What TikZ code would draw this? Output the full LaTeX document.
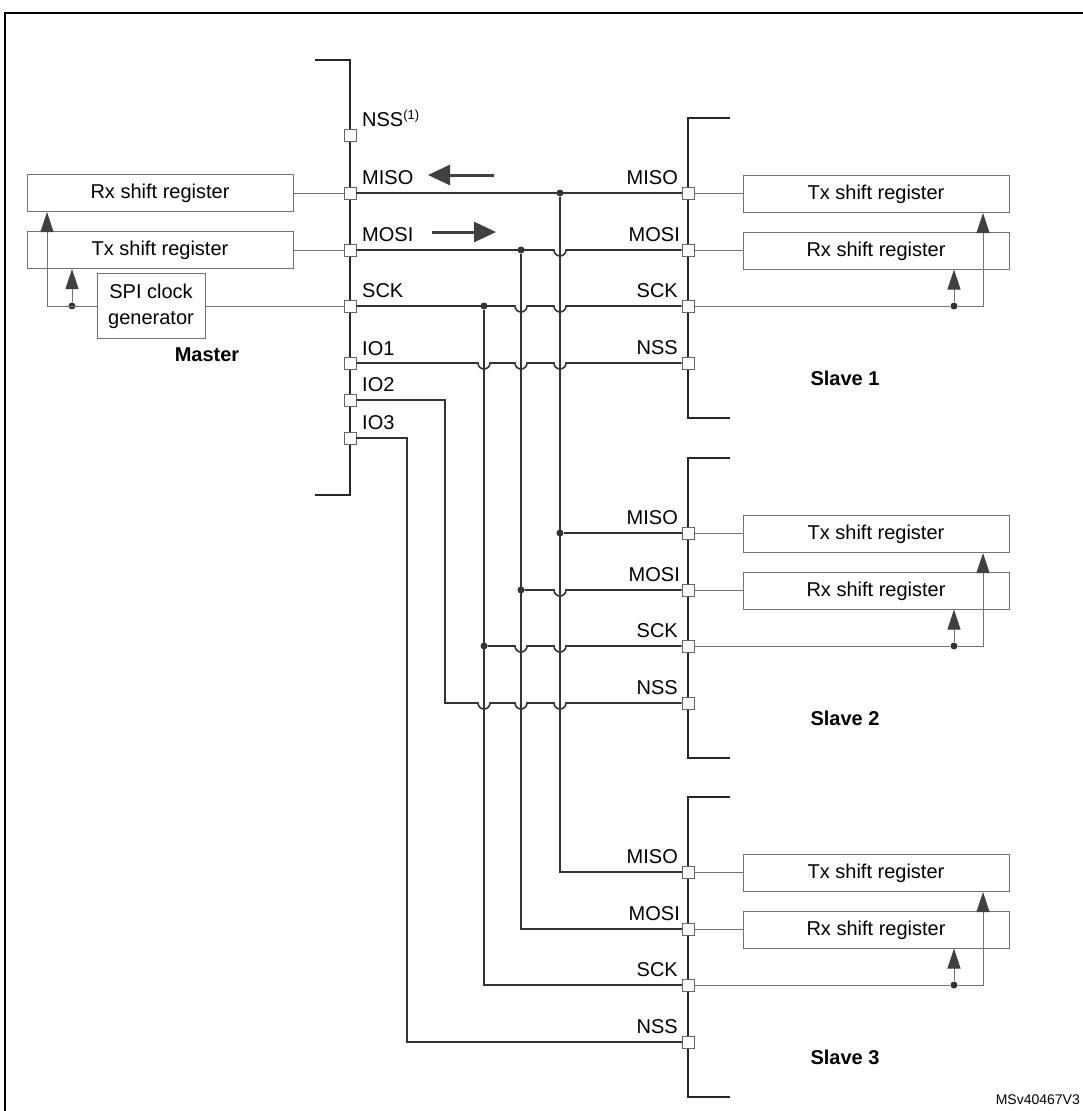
\documentclass[tikz,border=0pt]{standalone}
\usepackage{fontspec}
\setmainfont{Liberation Sans}
\usetikzlibrary{arrows.meta}
\begin{document}
\begin{tikzpicture}[x=1pt,y=-1pt,
  pad/.style={draw=black!60,fill=white,minimum size=12pt,inner sep=0pt,line width=0.8pt},
  reg/.style={draw=black!55,line width=0.9pt,minimum width=266pt,minimum height=37pt,inner sep=0pt,font=\fontsize{20}{24}\selectfont},
  bar/.style={draw=black!85,line width=1.8pt},
  bus/.style={draw=black!80,line width=1.6pt},
  thin/.style={draw=black!55,line width=0.9pt},
  lbl/.style={font=\fontsize{20}{24}\selectfont,inner sep=0pt},
  ttl/.style={font=\bfseries\fontsize{20}{24}\selectfont,inner sep=0pt},
  dot/.style={circle,fill=black!80,minimum size=7pt,inner sep=0pt},
  up/.style={-{Triangle[length=20pt,width=13pt,color=black!75]},draw=black!55,line width=0.9pt},
  big/.style={-{Triangle[length=22pt,width=20pt]},draw=black!75,line width=3pt},
]
\useasboundingbox (0,0) rectangle (1082,1111);
\draw[line width=1.5pt] (5,1130) -- (5,13) -- (1100,13);
\node[anchor=east,font=\fontsize{14}{17}\selectfont,inner sep=0pt] (code) at (1080,1100) {MSv40467V3};
\def\hop#1{-- (#1-6,\hy) arc[start angle=180,end angle=0,radius=6]}
% master
\draw[bar] (315,60) -- (350,60) -- (350,495) -- (315,495);
\foreach \n/\y in {nss/135,miso/193,mosi/250,sck/306,ioa/363,iob/400,ioc/438}
  \node[pad] (m-\n) at (350,\y) {};
\node[lbl,anchor=south west] (l-nss) at (362,127) {NSS\textsuperscript{\fontsize{13}{15}\selectfont(1)}};
\node[lbl,anchor=south west] (l-miso) at (362,185) {MISO};
\node[lbl,anchor=south west] (l-mosi) at (362,242) {MOSI};
\node[lbl,anchor=south west] (l-sck) at (362,298) {SCK};
\node[lbl,anchor=south west] (l-ioa) at (362,356) {IO1};
\node[lbl,anchor=south west] (l-iob) at (362,392) {IO2};
\node[lbl,anchor=south west] (l-ioc) at (362,430) {IO3};
\coordinate (a1) at (494,175); \coordinate (a2) at (428,175);
\draw[big] (a1) -- (a2);
\coordinate (b1) at (432,232); \coordinate (b2) at (496,232);
\draw[big] (b1) -- (b2);
\node[reg] (mrx) at (160,193) {Rx shift register};
\node[reg] (mtx) at (160,250) {Tx shift register};
\node[draw=black!55,line width=0.9pt,minimum width=108pt,minimum height=65pt,inner sep=0pt,align=center,font=\fontsize{20}{26}\selectfont] (clk) at (151,306) {SPI clock\\generator};
\draw[thin] (mrx.east) -- (m-miso);
\draw[thin] (mtx.east) -- (m-mosi);
\draw[thin] (clk.east) -- (m-sck);
\node[dot] (md) at (72,306) {};
\draw[thin] (clk.west) -- (md);
\draw[up] (clk.west) -- (47,306) -- (47,212);
\draw[up] (md) -- (72,269);
\node[ttl] (master) at (207,355) {Master};
% slaves
\foreach \s/\o in {1/0,2/340,3/679}{
  \draw[bar] (730,118+\o) -- (688,118+\o) -- (688,418+\o) -- (730,418+\o);
  \foreach \n/\y in {miso/193,mosi/250,sck/306,nss/363}
    \node[pad] (s\s-\n) at (688,\y+\o) {};
  \node[lbl,anchor=south east] at (678,185+\o) {MISO};
  \node[lbl,anchor=south east] at (680,242+\o) {MOSI};
  \node[lbl,anchor=south east] at (678,298+\o) {SCK};
  \node[lbl,anchor=south east] at (678,355+\o) {NSS};
  \node[reg] (s\s-tx) at (876,194+\o) {Tx shift register};
  \node[reg] (s\s-rx) at (876,251+\o) {Rx shift register};
  \draw[thin] (s\s-miso) -- (s\s-tx.west|-s\s-miso);
  \draw[thin] (s\s-mosi) -- (s\s-rx.west|-s\s-mosi);
  \node[dot] (s\s-d) at (954,306+\o) {};
  \draw[thin] (s\s-sck) -- (s\s-d);
  \draw[up] (s\s-d) -- (954,269.5+\o);
  \draw[up] (s\s-d) -- (983,306+\o) -- (983,213+\o);
  \node[ttl] at (845,378+\o) {Slave \s};
}
% buses
\node[dot] (j1) at (560,193) {};
\node[dot] (j2) at (521,250) {};
\node[dot] (j3) at (484,306) {};
\node[dot] (j4) at (560,533) {};
\node[dot] (j5) at (521,590) {};
\node[dot] (j6) at (484,646) {};
\draw[bus] (m-miso) -- (s1-miso);
\draw[bus] (j1) |- (s3-miso);
\draw[bus] (j4) -- (s2-miso);
\draw[bus] (j2) |- (s3-mosi);
\draw[bus] (j3) |- (s3-sck);
\def\hy{250}\draw[bus] (m-mosi) \hop{560} -- (s1-mosi);
\def\hy{306}\draw[bus] (m-sck) \hop{521}\hop{560} -- (s1-sck);
\def\hy{363}\draw[bus] (m-ioa) \hop{484}\hop{521}\hop{560} -- (s1-nss);
\def\hy{590}\draw[bus] (j5) \hop{560} -- (s2-mosi);
\def\hy{646}\draw[bus] (j6) \hop{521}\hop{560} -- (s2-sck);
\def\hy{703}\draw[bus] (m-iob) -| (445,703) \hop{484}\hop{521}\hop{560} -- (s2-nss);
\draw[bus] (m-ioc) -| (407,1042) -- (s3-nss);
\end{tikzpicture}
\end{document}
